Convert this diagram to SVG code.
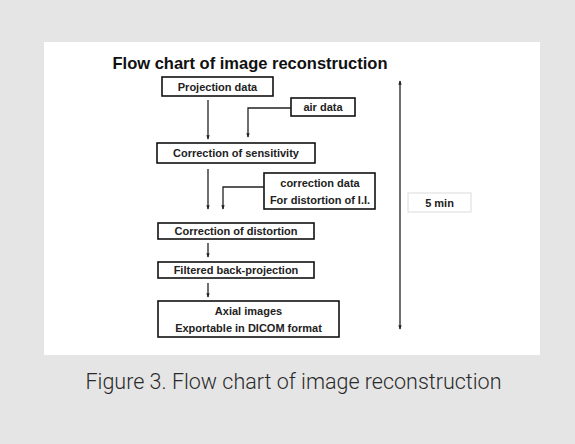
<svg xmlns="http://www.w3.org/2000/svg" width="575" height="444" viewBox="0 0 575 444">
<style>
.box{fill:#fff;stroke:#111;stroke-width:1.6}
.t{font-family:"Liberation Sans",Arial,sans-serif;font-weight:bold;font-size:11px;fill:#222;text-anchor:middle}
.ln{fill:none;stroke:#222;stroke-width:1.3}
</style>
<defs>
<marker id="ah" viewBox="0 0 6 6" refX="5" refY="3" markerWidth="3.5" markerHeight="3.5" orient="auto">
<path d="M0,0.8 L6,3 L0,5.2 z" fill="#222"/>
</marker>
<marker id="as" viewBox="0 0 6 6" refX="1" refY="3" markerWidth="3.5" markerHeight="3.5" orient="auto">
<path d="M6,0.8 L0,3 L6,5.2 z" fill="#222"/>
</marker>
</defs>
<rect x="0" y="0" width="575" height="444" fill="#e5e5e5"/>
<rect x="44" y="42" width="496" height="313" fill="#fff"/>
<text x="250" y="69" font-family="Liberation Sans,Arial,sans-serif" font-weight="bold" font-size="16.5" fill="#111" text-anchor="middle">Flow chart of image reconstruction</text>
<g id="projection"><rect class="box" x="162" y="77" width="111" height="19"/><text class="t" x="217.5" y="90.5">Projection data</text></g>
<g id="air"><rect class="box" x="291" y="98" width="64" height="18"/><text class="t" x="323" y="110.5">air data</text></g>
<g id="sensitivity"><rect class="box" x="157" y="143" width="158" height="20"/><text class="t" x="236" y="157">Correction of sensitivity</text></g>
<g id="corrdata"><rect class="box" x="264" y="173" width="111" height="36"/><text class="t" x="320" y="186.5">correction data</text><text class="t" x="320" y="203.5">For distortion of I.I.</text></g>
<g id="distortion"><rect class="box" x="158" y="223" width="156" height="16"/><text class="t" x="236" y="235">Correction of distortion</text></g>
<g id="fbp"><rect class="box" x="158" y="262" width="156" height="16"/><text class="t" x="236" y="274">Filtered back-projection</text></g>
<g id="axial"><rect class="box" x="158" y="301" width="181" height="36"/><text class="t" x="248.5" y="314.5">Axial images</text><text class="t" x="248.5" y="331.5">Exportable in DICOM format</text></g>
<g id="time"><rect x="408" y="193" width="63" height="19" fill="#fff" stroke="#e2e2e2" stroke-width="1.2"/><text class="t" x="439.5" y="206.5" font-size="10">5 min</text></g>
<g id="connectors">
<line class="ln" x1="208" y1="100" x2="208" y2="139" marker-end="url(#ah)"/>
<polyline class="ln" points="291,108 248,108 248,137" marker-end="url(#ah)"/>
<line class="ln" x1="208" y1="169" x2="208" y2="209" marker-end="url(#ah)"/>
<polyline class="ln" points="264,187 223,187 223,209" marker-end="url(#ah)"/>
<line class="ln" x1="208" y1="243" x2="208" y2="257" marker-end="url(#ah)"/>
<line class="ln" x1="208" y1="283" x2="208" y2="297" marker-end="url(#ah)"/>
<line class="ln" x1="400" y1="81" x2="400" y2="329" stroke-width="1.6" marker-start="url(#as)" marker-end="url(#ah)"/>
</g>
<text x="293.5" y="389" font-family="Roboto,Liberation Sans,sans-serif" font-weight="300" font-size="21.5" fill="#2a2a2a" text-anchor="middle">Figure 3. Flow chart of image reconstruction</text>
</svg>
